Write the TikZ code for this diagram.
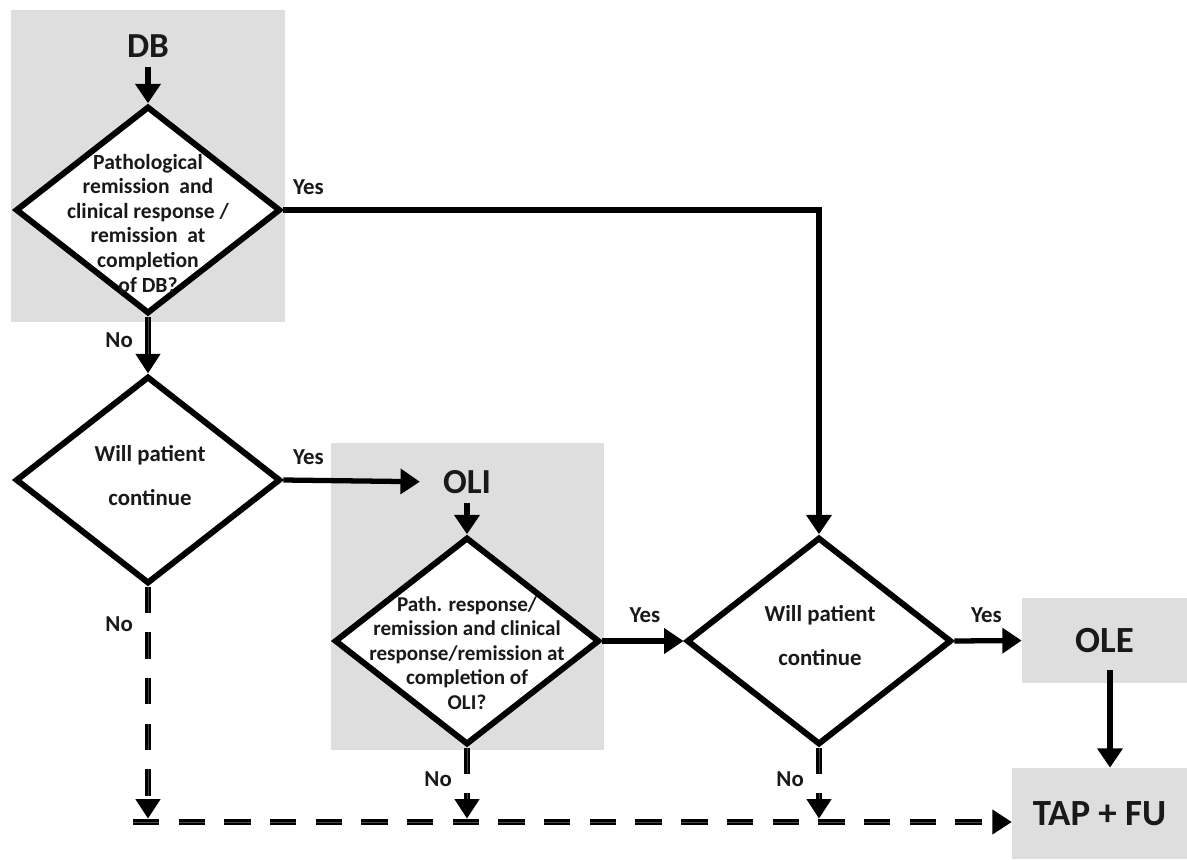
\documentclass[tikz,border=0pt]{standalone}
\usepackage{fontspec}
\setmainfont{Carlito}
\usetikzlibrary{arrows.meta,positioning,shapes.geometric}
\definecolor{panelgray}{RGB}{222,222,222}
\definecolor{inkgray}{RGB}{25,25,25}

\begin{document}
\begin{tikzpicture}[x=0.02cm,y=-0.02cm,>={Triangle[length=11pt,width=14pt]},
  dec/.style={draw=black,diamond,line width=3.4pt,fill=white,
              minimum width=5.3cm,minimum height=4.15cm,inner sep=0pt},
  qtext/.style={align=center,text=inkgray,inner sep=0pt,
                font=\bfseries\fontsize{12.3}{14}\selectfont},
  ctext/.style={align=center,text=inkgray,inner sep=0pt,
                font=\bfseries\fontsize{13}{25}\selectfont},
  panel/.style={fill=panelgray,inner sep=0pt},
  title/.style={text=inkgray,inner sep=1pt,font=\bfseries\fontsize{20}{24}\selectfont},
  lbl/.style={text=inkgray,inner sep=2pt,font=\bfseries\fontsize{13}{15}\selectfont},
  arr/.style={->,line width=3pt},
  noline/.style={->,line width=1.3pt,double=black!72,double distance=.5pt},
  nodash/.style={noline,dash pattern=on 15pt off 11pt}]
\useasboundingbox[fill=white] (0,0) rectangle (1187,859);

% shaded phases
\node[panel,minimum width=5.48cm,minimum height=6.24cm] (dbpanel) at (148,166) {};
\node[panel,minimum width=5.46cm,minimum height=6.14cm] (olipanel) at (467.5,596.5) {};
\node[panel,minimum width=3.3cm,minimum height=1.7cm,title,font=\bfseries\fontsize{21}{24}\selectfont] (ole) at (1104.5,640.5) {OLE};
\node[panel,minimum width=3.5cm,minimum height=1.82cm,title,font=\bfseries\fontsize{21}{24}\selectfont] (tap) at (1099.5,813.5) {TAP + FU};

% decisions
\node[title] (db) at (148,46) {DB};
\node[dec] (q1) at (148,210) {};
\node[qtext] (q1txt) at (148,223) {Pathological\\remission~ and\\clinical response /\\remission~ at\\completion\\of DB?};
\node[dec] (q2) at (148,480) {};
\node[ctext] (q2txt) at (150,476) {Will patient\\continue};
\node[title] (oli) at (467,482) {OLI};
\node[dec] (q3) at (467,641) {};
\node[qtext,font=\bfseries\fontsize{12}{14}\selectfont] (q3txt) at (467,653) {Path. response/\\remission and clinical\\response/remission at\\completion of\\OLI?};
\node[dec] (q4) at (819,641) {};
\node[ctext] (q4txt) at (820,636) {Will patient\\continue};

% dashed collector line
\coordinate (hstart) at (133,822);
\coordinate (m1) at (148,822);
\coordinate (m2) at (467,822);
\coordinate (m3) at (819,822);

\draw[arr] ([yshift=-4pt]db.south) -- (q1.north);
\draw[arr] (q1.east) -| node[lbl,pos=0,anchor=south west,xshift=2pt,yshift=5pt]{Yes} (q4.north);
\draw[noline] (q1.south) -- node[lbl,left,pos=.42,xshift=-6pt]{No} (q2.north);
\draw[arr,shorten >=12pt] (q2.east) -- node[lbl,pos=0,anchor=south west,xshift=2pt,yshift=5pt]{Yes} (oli.west);
\draw[arr] ([yshift=-4pt]oli.south) -- (q3.north);
\draw[arr] (q3.east) -- node[lbl,pos=0,anchor=south west,xshift=12pt,yshift=7pt]{Yes} (q4.west);
\draw[arr] (q4.east) -- node[lbl,pos=0,anchor=south west,xshift=6pt,yshift=7pt]{Yes} (ole.west);
\draw[arr] ([xshift=.11cm,yshift=.26cm]ole.south) -- ([xshift=.11cm]ole.south |- tap.north);
\draw[nodash,shorten >=2pt] (q2.south) -- node[lbl,left,pos=.16,xshift=-6pt]{No} (m1);
\draw[nodash,shorten >=2pt] (q3.south) -- node[lbl,left,pos=.43,xshift=-6pt]{No} (m2);
\draw[nodash,shorten >=2pt] (q4.south) -- node[lbl,left,pos=.43,xshift=-6pt]{No} (m3);
\draw[nodash] (hstart) -- (hstart -| tap.west);
\end{tikzpicture}
\end{document}
